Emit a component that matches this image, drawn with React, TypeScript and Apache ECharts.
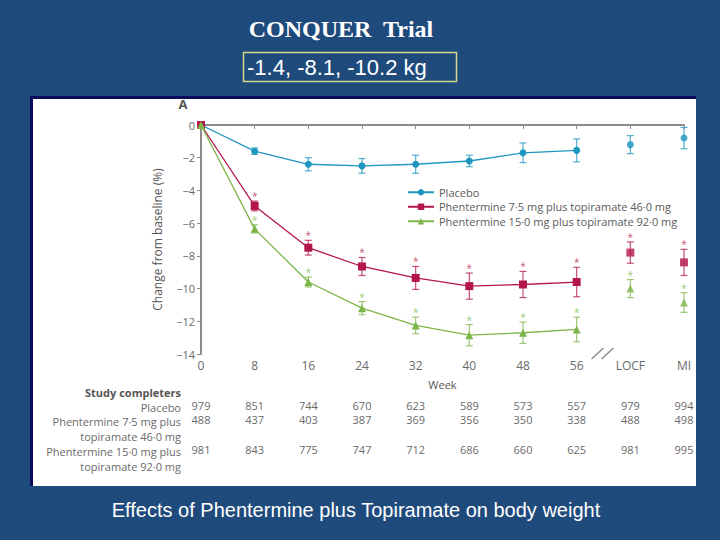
import React, { useEffect, useRef } from "react";
import * as echarts from "echarts";

const weeks = ["0", "8", "16", "24", "32", "40", "48", "56", "LOCF", "MI"];
const placeboMean = [0, -1.6, -2.4, -2.5, -2.4, -2.2, -1.7, -1.55, -1.2, -0.8];
const placeboErr = [0, 0.2, 0.4, 0.45, 0.55, 0.35, 0.6, 0.7, 0.55, 0.65];
const midMean = [0, -4.95, -7.5, -8.65, -9.35, -9.85, -9.75, -9.6, -7.8, -8.4];
const midErr = [0, 0.3, 0.45, 0.55, 0.7, 0.8, 0.8, 0.9, 0.65, 0.8];
const highMean = [0, -6.35, -9.6, -11.2, -12.25, -12.85, -12.7, -12.5, -10.0, -10.85];
const highErr = [0, 0.25, 0.3, 0.4, 0.5, 0.65, 0.65, 0.75, 0.55, 0.6];

const placeboN = [979, 851, 744, 670, 623, 589, 573, 557, 979, 994];
const midN = [488, 437, 403, 387, 369, 356, 350, 338, 488, 498];
const highN = [981, 843, 775, 747, 712, 686, 660, 625, 981, 995];

const seriesNames = [
  "Placebo",
  "Phentermine 7·5 mg plus topiramate 46·0 mg",
  "Phentermine 15·0 mg plus topiramate 92·0 mg",
];
const colors = ["#1e96bf", "#b3154d", "#7cb648"];
const symbols = ["circle", "rect", "triangle"];
const symbolSizes = [7, 8, 8];
const means = [placeboMean, midMean, highMean];
const errs = [placeboErr, midErr, highErr];
const starred = [false, true, true];

const rowLabels = [
  { text: "Study completers", y: 392, bold: true },
  { text: "Placebo", y: 407, bold: false },
  { text: "Phentermine 7·5 mg plus", y: 421, bold: false },
  { text: "topiramate 46·0 mg", y: 436, bold: false },
  { text: "Phentermine 15·0 mg plus", y: 451, bold: false },
  { text: "topiramate 92·0 mg", y: 466, bold: false },
];

const FONT = "'Open Sans', 'Noto Sans', sans-serif";
const BG = "#1f4a7c";
const NAVY = "#0b0b5c";

export default function App() {
  const ref = useRef<HTMLDivElement>(null);
  useEffect(() => {
    if (!ref.current) return;
    const chart = echarts.init(ref.current, null, { renderer: "svg" });

    const series: any[] = [];
    for (let k = 0; k < 3; k++) {
      const m = means[k];
      series.push({
        name: seriesNames[k],
        type: "line",
        data: m.map((v, i) => (i < 8 ? v : "-")),
        symbol: symbols[k],
        symbolSize: symbolSizes[k],
        showSymbol: true,
        color: colors[k],
        lineStyle: { width: 1.3, color: colors[k] },
        itemStyle: { color: colors[k] },
        z: 5,
      });
      series.push({
        name: seriesNames[k],
        type: "scatter",
        data: m.map((v, i) => (i >= 8 ? v : "-")),
        symbol: symbols[k],
        symbolSize: symbolSizes[k],
        itemStyle: { color: colors[k] },
        z: 5,
      });
      const col = colors[k];
      const star = starred[k];
      series.push({
        type: "custom",
        name: seriesNames[k] + " err",
        data: m.map((v, i) => [i, v, errs[k][i]]).filter((d) => d[2] > 0),
        z: 4,
        renderItem: (params: any, api: any) => {
          const x = api.value(0);
          const v = api.value(1);
          const e = api.value(2);
          const top = api.coord([x, v + e]);
          const bot = api.coord([x, v - e]);
          const st = { stroke: col, lineWidth: 1.2, opacity: 0.75 };
          const children: any[] = [
            { type: "line", shape: { x1: top[0], y1: top[1], x2: bot[0], y2: bot[1] }, style: st },
            { type: "line", shape: { x1: top[0] - 3.5, y1: top[1], x2: top[0] + 3.5, y2: top[1] }, style: st },
            { type: "line", shape: { x1: bot[0] - 3.5, y1: bot[1], x2: bot[0] + 3.5, y2: bot[1] }, style: st },
          ];
          if (star) {
            children.push({
              type: "text",
              style: {
                text: "*",
                x: top[0],
                y: top[1] - 5,
                textAlign: "center",
                textVerticalAlign: "middle",
                fill: col,
                opacity: 0.75,
                font: `10px ${FONT}`,
              },
            });
          }
          return { type: "group", children };
        },
      });
    }

    const countAxis = (arr: number[], offset: number) => ({
      type: "category",
      data: weeks,
      boundaryGap: false,
      position: "bottom",
      offset,
      axisLine: { show: false },
      axisTick: { show: false },
      axisLabel: {
        interval: 0,
        margin: 0,
        color: "#6a6a6a",
        fontSize: 11,
        fontFamily: FONT,
        formatter: (_v: string, i: number) => String(arr[i]),
      },
    });

    const graphics: any[] = [
      { type: "rect", id: "panel", shape: { x: 33, y: 99, width: 663, height: 387 }, style: { fill: "#ffffff" }, z: -10 },
      { type: "line", id: "bt", shape: { x1: 30, y1: 97.5, x2: 696, y2: 97.5 }, style: { stroke: NAVY, lineWidth: 3 }, z: -9 },
      { type: "line", id: "bl", shape: { x1: 31.5, y1: 96, x2: 31.5, y2: 486 }, style: { stroke: NAVY, lineWidth: 3 }, z: -9 },
      { type: "rect", id: "cover", shape: { x: 696, y: 99, width: 24, height: 390 }, style: { fill: BG }, z: 100 },
      {
        type: "text", id: "title", x: 341, y: 29,
        style: { text: "CONQUER  Trial", fill: "#ffffff", font: `bold 24px 'Liberation Serif', 'Times New Roman', serif`, textAlign: "center", textVerticalAlign: "middle" },
      },
      { type: "rect", id: "box", shape: { x: 243.5, y: 52.5, width: 213, height: 29 }, style: { fill: "none", stroke: "#d6da8c", lineWidth: 1.5 } },
      {
        type: "text", id: "sub", x: 247, y: 67,
        style: { text: "-1.4, -8.1, -10.2 kg", fill: "#ffffff", font: `22px 'Liberation Sans', Arial, sans-serif`, textAlign: "left", textVerticalAlign: "middle" },
      },
      {
        type: "text", id: "caption", x: 356, y: 510,
        style: { text: "Effects of Phentermine plus Topiramate on body weight", fill: "#ffffff", font: `20px 'Liberation Sans', Arial, sans-serif`, textAlign: "center", textVerticalAlign: "middle" },
      },
      {
        type: "text", id: "A", x: 183, y: 104,
        style: { text: "A", fill: "#555555", font: `bold 13px ${FONT}`, textAlign: "center", textVerticalAlign: "middle" },
      },
      ...rowLabels.map((r, i) => ({
        type: "text", id: "row" + i, x: 181, y: r.y,
        style: { text: r.text, fill: r.bold ? "#555555" : "#6a6a6a", font: `${r.bold ? "bold " : ""}11px ${FONT}`, textAlign: "right", textVerticalAlign: "middle" },
      })),
    ];

    chart.setOption({
      animation: false,
      backgroundColor: BG,
      textStyle: { fontFamily: FONT },
      grid: { left: 201, right: 36, top: 125, bottom: 186, containLabel: false },
      legend: {
        data: seriesNames,
        orient: "vertical",
        left: 402,
        top: 181,
        itemWidth: 26,
        itemHeight: 8,
        itemGap: 2,
        textStyle: { fontSize: 11, lineHeight: 12.5, color: "#5a5a5a", fontFamily: FONT },
      },
      xAxis: [
        {
          type: "category",
          data: weeks,
          boundaryGap: false,
          axisLine: { lineStyle: { color: "#8c8c8c", width: 2 } },
          axisTick: { show: true, length: 4, alignWithLabel: true, lineStyle: { color: "#8c8c8c" } },
          axisLabel: { interval: 0, color: "#6a6a6a", fontSize: 12, margin: 5, fontFamily: FONT },
          name: "Week",
          nameLocation: "middle",
          nameGap: 25,
          nameTextStyle: { color: "#555555", fontSize: 11, fontFamily: FONT },
        },
        countAxis(placeboN, 46),
        countAxis(midN, 60),
        countAxis(highN, 90),
      ],
      yAxis: {
        type: "value",
        min: -14,
        max: 0,
        interval: 2,
        axisLine: { show: true, lineStyle: { color: "#8c8c8c", width: 2 } },
        axisTick: { show: true, length: 4, lineStyle: { color: "#8c8c8c" } },
        splitLine: { show: false },
        axisLabel: {
          color: "#6a6a6a",
          fontSize: 11,
          margin: 6,
          fontFamily: FONT,
          formatter: (v: number) => (v < 0 ? "−" + Math.abs(v) : String(v)),
        },
        name: "Change from baseline (%)",
        nameLocation: "middle",
        nameGap: 38,
        nameTextStyle: { color: "#555555", fontSize: 12, fontFamily: FONT },
      },
      graphic: { elements: graphics },
      series,
    });

    const p56 = chart.convertToPixel({ xAxisIndex: 0 }, "56") as number;
    const pL = chart.convertToPixel({ xAxisIndex: 0 }, "LOCF") as number;
    const y0 = chart.convertToPixel({ yAxisIndex: 0 }, -14) as number;
    const mid = (p56 + pL) / 2;
    chart.setOption({
      graphic: {
        elements: [
          { type: "rect", id: "brk", shape: { x: mid - 12, y: y0 - 2, width: 24, height: 4 }, style: { fill: "#ffffff" }, z: 50 },
          { type: "line", id: "s1", shape: { x1: mid - 12, y1: y0 + 5, x2: mid, y2: y0 - 6 }, style: { stroke: "#8c8c8c", lineWidth: 1.5 }, z: 51 },
          { type: "line", id: "s2", shape: { x1: mid - 2, y1: y0 + 5, x2: mid + 10, y2: y0 - 6 }, style: { stroke: "#8c8c8c", lineWidth: 1.5 }, z: 51 },
        ],
      },
    });

    return () => chart.dispose();
  }, []);

  return (
    <div style={{ position: "fixed", left: 0, top: 0, width: 720, height: 540, margin: 0 }}>
      <div ref={ref} style={{ width: 720, height: 540 }} />
    </div>
  );
}
